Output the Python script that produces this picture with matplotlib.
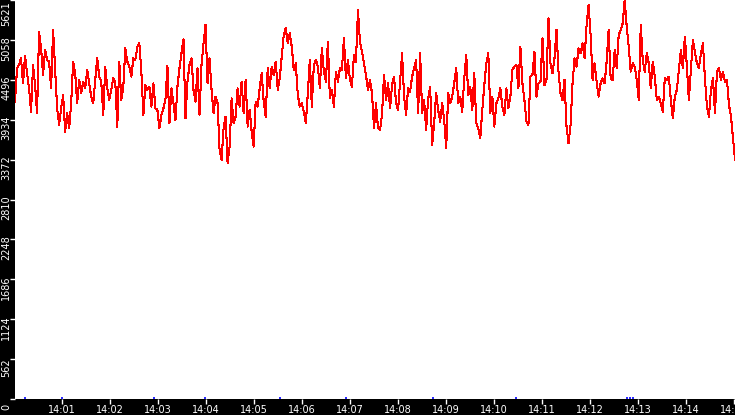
import numpy as np
import matplotlib
matplotlib.use("Agg")
import matplotlib.pyplot as plt
import matplotlib.transforms as mtransforms

# values, left to right (about one every 2.5 s)
rate_a = [4189, 4659, 4706, 4800, 4448, 4833, 4589, 4377, 4049, 4706,
          4424, 4025, 5176, 4941, 4565, 4917, 4777, 4753, 4377, 5199,
          4636, 4095, 3861, 4095, 4283, 3767, 4025, 3814, 4166, 4753,
          4589, 4166, 4495, 4307, 4471, 4377, 4636, 4448, 4260, 4166,
          4495, 4800, 4542, 4471, 4002, 4683, 4377, 4213, 4354, 4518,
          4471, 3837, 4753, 4213, 4401, 4941, 4753, 4683, 4542, 4800,
          4777, 4964, 5011, 4612, 4002, 4424, 4354, 4401, 4119, 4448,
          4095, 4072, 3814, 4002, 4095]
rate_b = [4213, 4692, 3884, 4377, 4166, 3931, 4401, 4659, 4871, 5068,
          3955, 4471, 4706, 4800, 4354, 4189, 4659, 4002, 4706, 5011,
          5270, 4448, 4800, 4354, 4025, 4260, 4166, 3508, 3368, 3814,
          3978, 3320, 3555, 4236, 3884, 3978, 4377, 4119, 4471, 4025,
          4495, 3837, 4072, 3767, 3555, 4189, 4119, 4377, 4589, 4189,
          3978, 4659, 4377, 4683, 4565, 4753, 4354, 4518, 4824, 5129,
          5223, 5011, 5152, 4964, 4636, 4730, 4283, 4119, 4166, 4049,
          3884, 4307]
rate_c = [4777, 4119, 4706, 4777, 4683, 4377, 4941, 4612, 4471, 5035,
          4236, 4354, 4119, 4612, 4471, 4659, 4636, 5082, 4518, 4777,
          4495, 4401, 4847, 4753, 5481, 5035, 4894, 4730, 4565, 4354,
          4495, 4307, 3814, 4166, 3814, 3790, 4002, 4565, 4213, 4448,
          4095, 4424, 4542, 4166, 4072, 4471, 4871, 4260, 4002, 4377,
          4330, 4542, 4659, 4777, 4025, 4871, 4025, 4213, 3790, 4236,
          4401, 3579, 3884, 4307, 4072, 3908, 4166, 3931, 3532, 4307]
rate_d = [4166, 4260, 4448, 4659, 4166, 4260, 4049, 4518, 4847, 4283,
          4401, 4072, 4589, 3884, 3814, 3673, 4072, 4424, 4730, 4871,
          4025, 4260, 3837, 4166, 4236, 4377, 4119, 4002, 4377, 4095,
          4260, 4636, 4683, 4706, 4377, 4964, 4448, 4213, 3908, 3861,
          4542, 4565, 4894, 4260, 4448, 4471, 5082, 4424, 4495, 5364,
          4730, 4589, 4800, 5199, 4612, 4307, 4213, 4495, 3837, 3602,
          3861, 4448, 4800, 4683, 4941, 4871, 5011, 4800, 5270, 5552]
rate_e = [5129, 4495, 4730, 4471, 4260, 4448, 4518, 4448, 4753, 5199,
          4518, 4495, 4917, 4659, 5129, 5199, 5293, 5622, 5246, 4964,
          4612, 4730, 4683, 4495, 4213, 5270, 4777, 4612, 4871, 4730,
          4377, 4753, 4542, 4213, 4260, 4166, 4049, 4518, 4495, 4542,
          4213, 3955, 4260, 4354, 4636, 4917, 4659, 5105, 4683, 4213,
          4636, 5058, 4894, 4730, 4659, 4871, 5011, 4518, 4119, 3978,
          4354, 4518, 4025, 4612, 4659, 4495, 4612, 4471, 4495, 4142,
          3978, 3673, 3368]
rate = rate_a + rate_b + rate_c + rate_d + rate_e

# minutes after 14:00 of the small blue event marks on the floor
events = [0.22, 1.0, 2.91, 3.98, 5.53, 6.92, 8.72, 10.46, 12.76, 12.83, 12.9]

y_ticks = [0, 562, 1124, 1686, 2248, 2810, 3372, 3934, 4496, 5058, 5621]
x_ticks = [1, 2, 3, 4, 5, 6, 7, 8, 9, 10, 11, 12, 13, 14, 15]
x_labels = ["14:01", "14:02", "14:03", "14:04", "14:05", "14:06", "14:07",
            "14:08", "14:09", "14:10", "14:11", "14:12", "14:13", "14:14",
            "14:15"]

t_start, t_end = 1 / 60, 15 + 1 / 60
t = np.linspace(t_start, t_end, len(rate))

fig = plt.figure(figsize=(7.35, 4.15), dpi=100, facecolor="black")
ax = fig.add_axes([15 / 735, 16 / 415, 720 / 735, 399 / 415])
ax.set_facecolor("white")

ax.plot(t, rate, color="#ff0000", lw=0.75, antialiased=False)
ax.vlines(events, 0, 30, color="#0000ff", lw=1.2)

ax.set_xlim(t_start, t_end)
ax.set_ylim(0, 5621)
ax.set_xticks(x_ticks)
ax.set_xticklabels(x_labels)
ax.set_yticks(y_ticks)
ax.set_yticklabels([str(v) for v in y_ticks], rotation=90, va="center")

for s in ax.spines.values():
    s.set_visible(False)

ax.tick_params(colors="white", labelcolor="white", labelsize=7,
               direction="out", length=3.5, width=1)
ax.tick_params(axis="y", pad=-0.8)
ax.tick_params(axis="x", pad=1)

# y labels sit a little below their ticks; the top one is kept inside
shift = mtransforms.ScaledTranslation(0, -6 / 72, fig.dpi_scale_trans)
top_shift = mtransforms.ScaledTranslation(0, -10 / 72, fig.dpi_scale_trans)
labels = ax.get_yticklabels()
for lab in labels[:-1]:
    lab.set_transform(lab.get_transform() + shift)
labels[-1].set_transform(labels[-1].get_transform() + top_shift)

fig.savefig("out.png", dpi=100, facecolor="black")
